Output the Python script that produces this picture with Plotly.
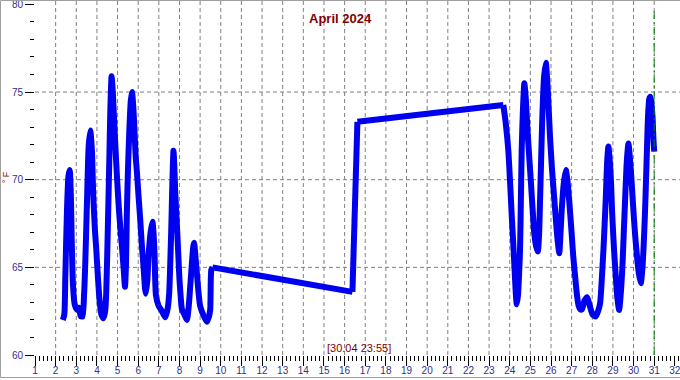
import plotly.graph_objects as go

# ---- data (day of month as fractional days, temperature in °F) ----
DAYS = [
    2.35, 2.42, 2.47, 2.55, 2.62, 2.68, 2.74, 2.78, 2.84, 2.92, 3.02, 3.12, 3.22, 3.30,
    3.38, 3.44, 3.52, 3.60, 3.68, 3.76, 3.82, 3.90, 3.97, 4.05, 4.13, 4.22, 4.32, 4.40,
    4.45, 4.53, 4.60, 4.65, 4.71, 4.77, 4.81, 4.89, 4.97, 5.05, 5.13, 5.21, 5.29, 5.36,
    5.41, 5.45, 5.51, 5.57, 5.64, 5.70, 5.76, 5.82, 5.88, 5.94, 6.02, 6.10, 6.18, 6.26,
    6.33, 6.37, 6.44, 6.50, 6.60, 6.69, 6.74, 6.79, 6.86, 6.99, 7.15, 7.31, 7.42, 7.50,
    7.56, 7.60, 7.66, 7.71, 7.75, 7.79, 7.88, 7.94, 8.00, 8.06, 8.12, 8.24, 8.36, 8.45,
    8.52, 8.60, 8.67, 8.71, 8.76, 8.84, 8.92, 9.00, 9.15, 9.33, 9.43, 9.49, 9.54, 9.60,
    16.38, 16.62, 23.69,
    23.80, 23.93, 24.02, 24.10, 24.17, 24.23, 24.29, 24.34, 24.40, 24.45, 24.50, 24.54,
    24.58, 24.64, 24.71, 24.78, 24.87, 24.95, 25.03, 25.11, 25.19, 25.28, 25.36, 25.42,
    25.47, 25.53, 25.58, 25.66, 25.75, 25.81, 25.87, 25.95, 26.04, 26.12, 26.20, 26.30,
    26.40, 26.46, 26.52, 26.62, 26.72, 26.80, 26.88, 26.94, 27.00, 27.08, 27.17, 27.26,
    27.34, 27.42, 27.50, 27.62, 27.75, 27.88, 28.02, 28.17, 28.28, 28.38, 28.46, 28.54,
    28.60, 28.65, 28.72, 28.78, 28.84, 28.91, 28.96, 29.02, 29.08, 29.14, 29.22, 29.30,
    29.38, 29.46, 29.52, 29.59, 29.67, 29.75, 29.82, 29.91, 29.99, 30.07, 30.16, 30.25,
    30.35, 30.42, 30.48, 30.55, 30.60, 30.65, 30.70, 30.76, 30.81, 30.87, 30.92, 30.96,
    31.00,
]
TEMPS = [
    62.0, 62.3, 64.5, 68.3, 70.2, 70.55, 69.0, 66.5, 64.0, 62.9, 62.6, 62.7, 62.2, 62.2,
    63.5, 65.4, 68.8, 71.9, 72.8, 71.6, 69.2, 67.2, 66.0, 64.4, 63.1, 62.3, 62.1, 62.5,
    63.5, 67.3, 71.1, 74.0, 75.9, 75.0, 74.0, 72.0, 70.2, 68.6, 67.3, 66.2, 65.0, 63.9,
    65.2, 68.1, 70.8, 72.8, 74.5, 75.0, 74.2, 72.8, 71.3, 70.4, 69.0, 67.7, 66.2, 65.0,
    63.8, 63.5, 64.2, 65.6, 67.0, 67.6, 67.0, 65.8, 63.4, 62.8, 62.5, 62.15, 62.6, 63.5,
    65.5, 67.1, 70.0, 71.65, 70.8, 69.4, 67.3, 65.8, 64.3, 63.3, 62.6, 62.3, 62.0, 62.8,
    63.9, 65.2, 66.2, 66.4, 65.8, 64.7, 63.6, 62.8, 62.3, 61.9, 62.2, 62.6, 64.85, 65.0,
    63.6, 73.3, 74.26,
    73.3, 71.7, 69.8, 67.9, 66.4, 65.0, 63.6, 62.9, 63.4, 64.5, 66.0, 68.8,
    71.7, 74.0, 75.5, 74.6, 72.65, 71.2, 69.8, 68.3, 66.94, 66.2, 65.9, 66.8,
    68.84, 71.5, 73.6, 75.8, 76.67, 75.8, 74.5, 72.5, 70.74, 69.5, 68.27, 66.8,
    65.8, 66.9, 68.27, 69.8, 70.55, 69.9, 68.84, 67.9, 66.94, 65.6, 64.47, 63.4,
    62.8, 62.6, 62.6, 63.1, 63.3, 62.8, 62.3, 62.2, 62.5, 62.95, 64.3, 66.0,
    67.5, 68.84, 71.0, 71.9, 71.2, 69.8, 68.2, 66.75, 65.5, 64.47, 63.2, 62.57,
    63.5, 65.04, 66.8, 68.84, 71.0, 72.07, 71.3, 69.8, 68.3, 66.94, 65.7, 64.7,
    64.09, 64.8, 66.0, 68.0, 69.8, 71.8, 73.6, 74.6, 74.73, 74.3, 73.6, 72.4,
    71.6,
]

X_TICKS = list(range(1, 33))
Y_TICKS = [60, 65, 70, 75, 80]
X_GRID = list(range(2, 32))
Y_GRID = [65, 70, 75]
MARKER_DAY = 31
TITLE = "April 2024"
STAMP = "[30.04 23:55]"
Y_TITLE = "° F"

TICK_COLOR = "#30308F"
RED = "#800000"
FONT = "Liberation Sans"
LINE = dict(color="rgb(0,0,240)", width=6)

fig = go.Figure()

# split the series into continuous runs (smooth) and long data gaps (straight)
runs, cur = [], [0]
for i in range(1, len(DAYS)):
    if DAYS[i] - DAYS[i - 1] > 1.0:
        runs.append(("curve", cur))
        runs.append(("gap", [i - 1, i]))
        cur = [i]
    else:
        cur.append(i)
runs.append(("curve", cur))

for kind, idx in runs:
    if len(idx) < 2:
        continue
    fig.add_trace(go.Scatter(
        x=[DAYS[i] for i in idx], y=[TEMPS[i] for i in idx], mode="lines",
        line=dict(LINE, shape="spline" if kind == "curve" else "linear",
                  smoothing=0.6 if kind == "curve" else None),
        hoverinfo="x+y", showlegend=False,
    ))

for d in X_GRID:
    fig.add_shape(type="line", xref="x", yref="paper", x0=d, x1=d, y0=0, y1=1,
                  line=dict(color="#808080", width=1, dash="4px,3px"), layer="below")
for v in Y_GRID:
    fig.add_shape(type="line", xref="paper", yref="y", x0=0, x1=1, y0=v, y1=v,
                  line=dict(color="#808080", width=1, dash="4px,3px"), layer="below")

# end-of-data marker
fig.add_shape(type="line", xref="x", yref="y", x0=MARKER_DAY, x1=MARKER_DAY, y0=60, y1=79.67,
              line=dict(color="#008000", width=1, dash="8px,3px,2px,3px"), layer="above")

PW, PH, ML = 645.0, 355.0, 35.0
# outer frame (left, top, bottom) as three separate lines
FRAME = dict(color="#A0A0A0", width=1)
fig.add_shape(type="line", xref="paper", yref="paper", x0=-34.5 / PW, x1=1.0, y0=1 - 0.5 / PH, y1=1 - 0.5 / PH, line=FRAME)
fig.add_shape(type="line", xref="paper", yref="paper", x0=-34.5 / PW, x1=-34.5 / PW, y0=1 - 0.5 / PH, y1=1 - 377.5 / PH, line=FRAME)
fig.add_shape(type="line", xref="paper", yref="paper", x0=-34.5 / PW, x1=1.0, y0=1 - 377.5 / PH, y1=1 - 377.5 / PH, line=FRAME)

fig.add_annotation(text=f"<b>{TITLE}</b>", xref="paper", yref="paper",
                   x=(340 - ML) / PW, y=1 - 18 / PH, showarrow=False,
                   xanchor="center", yanchor="middle",
                   font=dict(family=FONT, size=13, color=RED))
fig.add_annotation(text=STAMP, xref="paper", yref="paper",
                   x=(359 - ML) / PW, y=1 - 348 / PH, showarrow=False,
                   xanchor="center", yanchor="middle",
                   font=dict(family=FONT, size=11, color=RED))

fig.update_layout(
    width=680, height=380,
    margin=dict(l=35, r=0, t=0, b=25),
    paper_bgcolor="white", plot_bgcolor="white",
    font=dict(family=FONT, size=10, color=TICK_COLOR),
    xaxis=dict(range=[1, 32.25], tickmode="array", tickvals=X_TICKS,
               ticks="outside", ticklen=10, tickcolor="black", tickwidth=1,
               ticklabelstandoff=-4, ticklabeloverflow="allow",
               showgrid=False, zeroline=False, showline=True, linecolor="white",
               tickfont=dict(family=FONT, size=10, color=TICK_COLOR),
               minor=dict(tick0=1, dtick=0.2, ticks="outside", ticklen=5,
                          tickcolor="black", showgrid=False)),
    yaxis=dict(range=[60, 80.25], tickmode="array", tickvals=Y_TICKS,
               ticktext=[str(v) for v in Y_TICKS],
               ticks="outside", ticklen=9, tickcolor="black", tickwidth=1,
               ticklabeloverflow="allow",
               title=dict(text=Y_TITLE, standoff=0, font=dict(family=FONT, size=9, color=RED)),
               showgrid=False, zeroline=False, showline=True, linecolor="white",
               tickfont=dict(family=FONT, size=10, color=TICK_COLOR),
               minor=dict(tick0=60, dtick=1, ticks="outside", ticklen=4,
                          tickcolor="black", showgrid=False)),
)

fig.write_html("out.html", config={"displayModeBar": False})
